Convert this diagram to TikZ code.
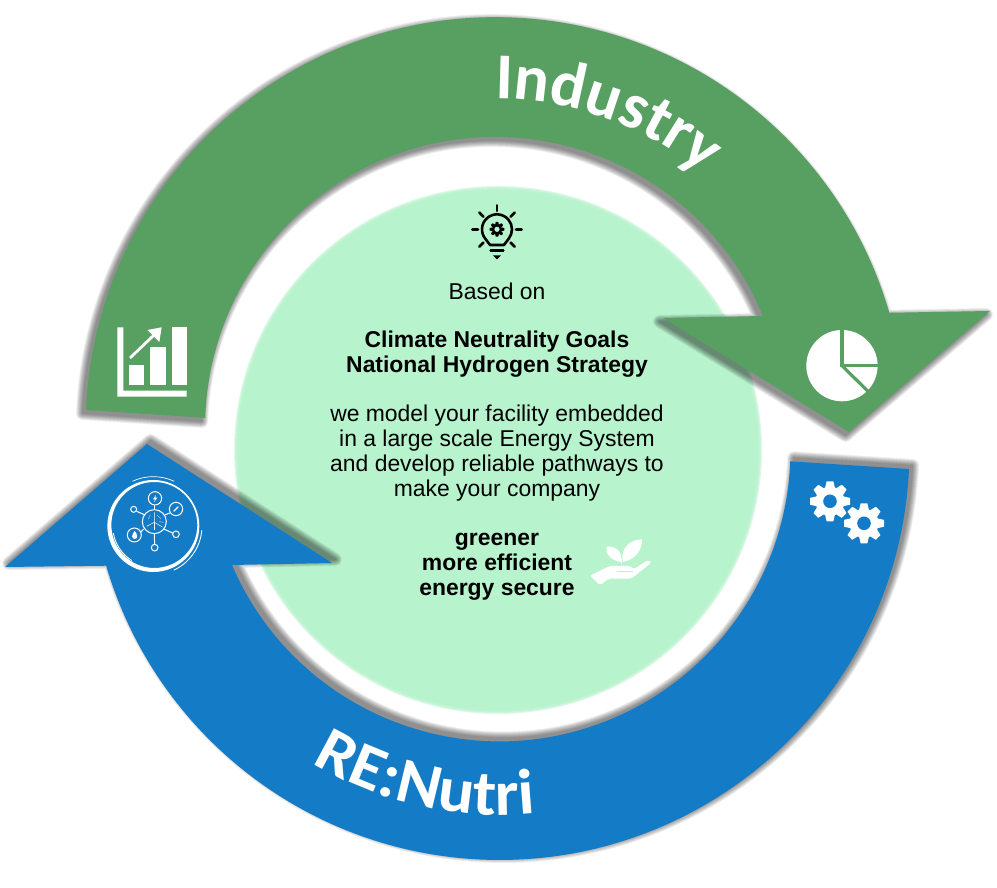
\documentclass[tikz,border=0pt]{standalone}
\usepackage{fontspec}
\setmainfont{Liberation Sans}
\newfontfamily\carl{Carlito}
\newfontfamily\carlw{Carlito}[FakeStretch=1.05]
\usetikzlibrary{decorations.text}
\definecolor{grn}{RGB}{88,159,98}
\definecolor{blu}{RGB}{20,123,198}
\definecolor{mint}{RGB}{183,243,205}
\newcommand{\greenpath}{(86,478) arc[start angle=177.6,end angle=16.2,radius=410] -- (990,577) -- (849,456) -- (663,570) -- (763,572) arc[start angle=22.5,end angle=178.2,radius=290] -- cycle}
\newcommand{\bluepath}{(909,419) arc[start angle=-2.66,end angle=-163.6,radius=410] -- (5,321) -- (147,444) -- (332,325) -- (232,323) arc[start angle=-156.8,end angle=-2.16,radius=291] -- cycle}
\newcommand{\softshadow}[3]{%
  \foreach \w in {13,11.5,10,8.5,7,5.5,4,2.5,1}{%
    \begin{scope}[transparency group,opacity=.06]
    \filldraw[black,line width=\w pt,line join=round,shift={(#2,#3)}] #1;
    \end{scope}}}
\newcommand{\cog}[7]{% x y rootr outerr holer holecolour bodycolour
  \begin{scope}[shift={(#1,#2)}]
    \fill[#7] (0,0) circle[radius=#3];
    \foreach \a in {0,45,...,315}{
      \fill[#7,rotate=\a,rounded corners=.4pt] (-.26*#4,.6*#4) -- (-.17*#4,#4) -- (.17*#4,#4) -- (.26*#4,.6*#4) -- cycle;}
    \fill[#6] (0,0) circle[radius=#5];
  \end{scope}}
\tikzset{
  bodytext/.style={font=\fontsize{22.9}{25}\selectfont,align=center,text=black,inner sep=0pt},
  boldtext/.style={bodytext,font=\fontsize{22.9}{25}\selectfont\bfseries},
  iconline/.style={white,line width=#1,line cap=round},
  blackline/.style={black,line width=#1,line cap=round}
}
\begin{document}
\begin{tikzpicture}[x=1pt,y=1pt]
\useasboundingbox (0,0) rectangle (997,888);
\fill[white] (0,0) rectangle (997,888);
% centre disc, soft edge
\foreach \r in {264,263,262,261}{\fill[mint,opacity=.45] (498,438) circle[radius=\r];}
\fill[mint] (498,438) circle[radius=260];
% arrows
\softshadow{\greenpath}{-3.5}{-3.5}
\softshadow{\bluepath}{3.5}{3.5}
\fill[grn] \greenpath;
\fill[blu] \bluepath;
% band labels
\path[decorate,decoration={text along path,text align=left,text={|\fontsize{65.5}{66}\selectfont\carl\bfseries\color{white}|Industry}}] (495,461) ++(90:328) arc[start angle=90,end angle=30,radius=328];
\path[decorate,decoration={text along path,text align=left,text={|\fontsize{64}{64}\selectfont\carlw\bfseries\color{white}|RE:Nutri}}] (500,438) ++(239:365) arc[start angle=239,end angle=300,radius=365];
% centre text
\node[bodytext] (based) at (497,597) {Based on};
\node[boldtext] (goals) at (497,533.5) {Climate Neutrality Goals\\National Hydrogen Strategy};
\node[bodytext] (model) at (497,434.5) {we model your facility embedded\\in a large scale Energy System\\and develop reliable pathways to\\make your company};
\node[boldtext] (green) at (497,321.5) {greener\\more efficient\\energy secure};
% bulb icon
\begin{scope}[shift={(440,698)},x=.3333pt,y=-.3333pt]
  \draw[blackline=2.6pt,line join=round] (150,165) -- (136.5,147) arc[start angle=140,end angle=400,radius=45] -- (192,165) -- cycle;
  \draw[blackline=2.6pt] (152,182) -- (190,182);
  \fill[black] (159,196) -- (183,196) -- (171,208) -- cycle;
  \foreach \a/\b/\c/\d in {171/46/171/63, 97/118/114/118, 228/118/245/118, 118/68/130/80, 224/68/212/80, 118/170/130/158, 224/170/212/158}{\draw[blackline=2.6pt] (\a,\b) -- (\c,\d);}
\end{scope}
\cog{497}{658.7}{5.2}{7.4}{2.6}{mint}{black}
% chart icon
\begin{scope}[shift={(60,588)},x=.3333pt,y=-.3333pt]
  \fill[white] (172,82) -- (190,82) -- (190,272) -- (380,272) -- (380,290) -- (172,290) -- cycle;
  \fill[white] (207,195) rectangle (253,255);
  \fill[white] (271,140) rectangle (317,255);
  \fill[white] (335,82) rectangle (380,255);
  \draw[iconline=2.8pt,line cap=butt] (210,174) -- (298,90);
  \fill[white] (305,82) -- (262,90) -- (298,126) -- cycle;
\end{scope}
% pie icon
\begin{scope}[shift={(660,588)},x=.3333pt,y=-.3333pt]
  \fill[white] (546,197) circle[radius=107];
  \draw[grn,line width=3.2pt] (546,85) -- (546,197) -- (660,197);
  \draw[grn,line width=3.2pt] (546,197) -- (630,280);
\end{scope}
% gears
\cog{830}{386.7}{14.5}{20}{6.8}{blu}{white}
\cog{864}{364.7}{14.5}{20}{6.8}{blu}{white}
% hand with sprout
\begin{scope}[shift={(570,368)},x=.3333pt,y=-.3333pt]
  \fill[white] (152,126) .. controls (120,120) and (105,100) .. (110,80) .. controls (140,76) and (160,100) .. cycle;
  \fill[white] (158,126) .. controls (150,85) and (180,58) .. (216,58) .. controls (218,90) and (195,120) .. cycle;
  \draw[iconline=1.3pt] (155,118) -- (155,130);
  \fill[white,rounded corners=2pt] (60,167) -- (118,138) -- (182,138) -- (190,148) -- (236,119) -- (244,128) -- (184,176) -- (116,176) -- (90,196) -- cycle;
  \draw[mint,line width=1.2pt] (142,155) -- (190,155);
\end{scope}
% network icon
\begin{scope}[shift={(95,423)},x=.3333pt,y=-.3333pt]
  \fill[white,even odd rule] (175,183) circle[radius=138] (178,180) circle[radius=129];
  \draw[white,line width=.7pt] (175,183) ++(245:148) arc[start angle=245,end angle=295,radius=148];
  \draw[white,line width=.9pt] (175,183) ++(5:146) arc[start angle=5,end angle=65,radius=146];
  \draw[white,line width=.9pt] (175,183) ++(170:122) arc[start angle=170,end angle=122,radius=122];
  \draw[white,line width=1pt] (178,170) circle[radius=36];
  \foreach \x/\y/\r in {180/100/20, 243/132/20, 118/210/21, 116/133/9, 243/208/10, 179/248/10}{\draw[white,line width=1pt] (\x,\y) circle[radius=\r];}
  \draw[white,line width=1pt] (180,120) -- (180,134);
  \draw[white,line width=1pt] (209,150) -- (227,143);
  \draw[white,line width=1pt] (125,139) -- (150,150);
  \draw[white,line width=1pt] (137,202) -- (146,192);
  \draw[white,line width=1pt] (206,192) -- (233,204);
  \draw[white,line width=1pt] (178,206) -- (178,214) -- (179,238);
  \draw[white,line width=.5pt] (178,172) -- (178,196);
  \draw[white,line width=.5pt] (178,172) -- (178,142) (178,172) -- (155,184) (178,172) -- (202,186);
  \draw[white,line width=.3pt] (186,150) -- (198,162) (192,170) -- (206,172) (166,150) -- (160,162);
  \fill[white] (183,90) -- (174,103) -- (180,103) -- (177,112) -- (187,98) -- (181,98) -- cycle;
  \fill[white] (119,198) .. controls (110,208) and (108,222) .. (119,222) .. controls (130,222) and (128,208) .. cycle;
  \draw[white,line width=1.1pt] (236,139) -- (250,125);
\end{scope}
\end{tikzpicture}
\end{document}
